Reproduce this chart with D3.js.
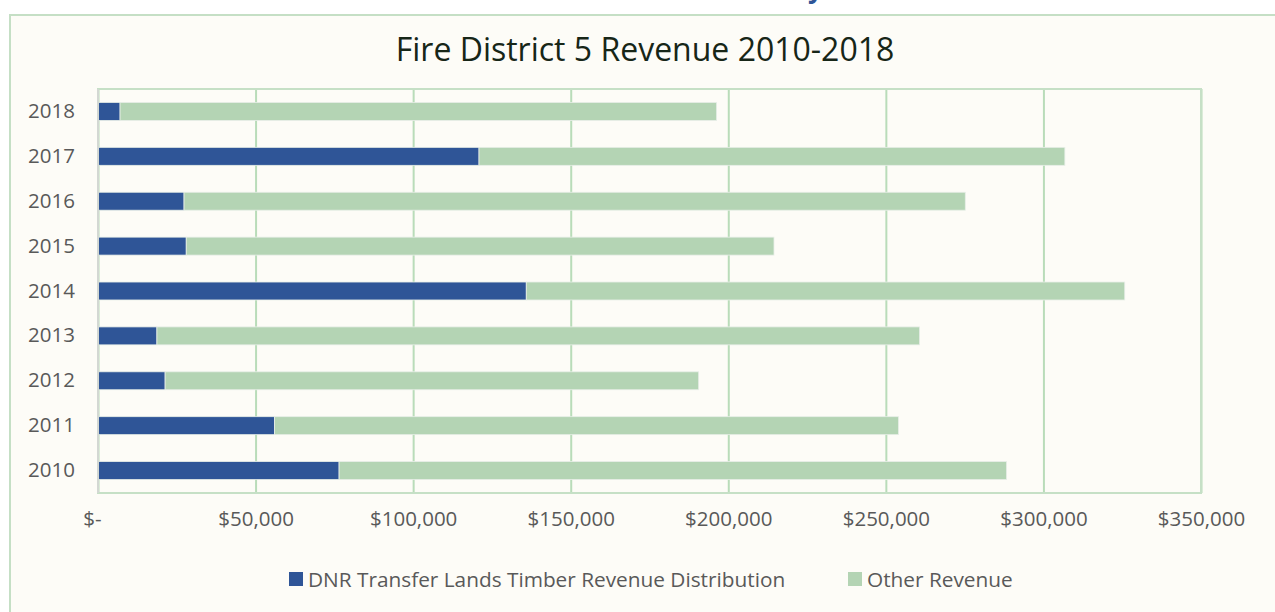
<!DOCTYPE html>
<html>
<head>
<meta charset="utf-8">
<script src="https://cdn.jsdelivr.net/npm/d3@7"></script>
<style>
  body { margin: 0; background: #ffffff; }
  text { font-family: "Open Sans", "Noto Sans", sans-serif; }
</style>
</head>
<body>
<div id="chart"></div>
<script>
const width = 1275, height = 612;

// data
const years = ["2010", "2011", "2012", "2013", "2014", "2015", "2016", "2017", "2018"];
const dnrRevenue = [76500, 56000, 21300, 18700, 135900, 28000, 27300, 120900, 7000];
const otherRevenue = [211800, 198000, 169300, 242000, 189900, 186500, 247900, 185900, 189300];
const xTicks = [0, 50000, 100000, 150000, 200000, 250000, 300000, 350000];
const seriesNames = ["DNR Transfer Lands Timber Revenue Distribution", "Other Revenue"];
const colors = ["#2f5597", "#b4d4b4"];

const plot = { left: 98, right: 1201, top: 89, bottom: 493 };

const svg = d3.select("#chart")
  .append("svg")
  .attr("width", width)
  .attr("height", height);

// cut-off heading from the page above
svg.append("text")
  .attr("x", 808)
  .attr("y", -2)
  .attr("font-size", 26)
  .attr("font-weight", "bold")
  .attr("fill", "#2f5597")
  .text("y");

// chart frame
svg.append("rect")
  .attr("x", 10)
  .attr("y", 15)
  .attr("width", 1300)
  .attr("height", 640)
  .attr("fill", "#fdfcf7")
  .attr("stroke", "#c5dfc5")
  .attr("stroke-width", 2);

svg.append("text")
  .attr("x", 645)
  .attr("y", 61)
  .attr("text-anchor", "middle")
  .attr("font-size", 32)
  .attr("fill", "#172617")
  .text("Fire District 5 Revenue 2010-2018");

const x = d3.scaleLinear()
  .domain([0, 350000])
  .range([plot.left, plot.right]);

const y = d3.scaleBand()
  .domain(years.slice().reverse())
  .range([plot.top, plot.bottom])
  .paddingInner(0.6)
  .paddingOuter(0.3);

// gridlines
const grid = svg.append("g")
  .attr("transform", `translate(0,${plot.bottom})`)
  .call(d3.axisBottom(x).tickValues(xTicks).tickSize(-(plot.bottom - plot.top)).tickFormat(""));
grid.select(".domain").remove();
grid.selectAll(".tick line")
  .attr("stroke", "#b9dcb9")
  .attr("stroke-width", 2);

// plot area border
svg.append("rect")
  .attr("x", plot.left)
  .attr("y", plot.top)
  .attr("width", plot.right - plot.left)
  .attr("height", plot.bottom - plot.top)
  .attr("fill", "none")
  .attr("stroke", "#c6e0c6")
  .attr("stroke-width", 2);

// stacked bars
const rows = years.map((yr, i) => ({ year: yr, dnr: dnrRevenue[i], other: otherRevenue[i] }));
const stack = d3.stack().keys(["dnr", "other"])(rows);

svg.append("g")
  .selectAll("g")
  .data(stack)
  .join("g")
  .attr("fill", (d, i) => colors[i])
  .selectAll("rect")
  .data(d => d)
  .join("rect")
  .attr("x", d => x(d[0]))
  .attr("y", d => y(d.data.year))
  .attr("width", d => x(d[1]) - x(d[0]))
  .attr("height", y.bandwidth())
  .attr("stroke", "#e8eee8")
  .attr("stroke-width", 0.8);

// vertical axis line
svg.append("line")
  .attr("x1", plot.left)
  .attr("x2", plot.left)
  .attr("y1", plot.top)
  .attr("y2", plot.bottom)
  .attr("stroke", "#d3d8d3")
  .attr("stroke-width", 2);

// x axis labels
const fmt = d3.format("$,");
const xAxis = svg.append("g")
  .attr("transform", `translate(0,${plot.bottom})`)
  .call(d3.axisBottom(x).tickValues(xTicks).tickSize(0).tickPadding(18)
    .tickFormat(d => d === 0 ? "$-" : fmt(d)));
xAxis.select(".domain").remove();
xAxis.selectAll("text")
  .attr("font-size", 20.5)
  .attr("fill", "#595959")
  .attr("font-family", "Open Sans, sans-serif")
  .attr("dx", d => d === 0 ? -6 : 0);

// y axis labels
const yAxis = svg.append("g")
  .attr("transform", `translate(${plot.left},0)`)
  .call(d3.axisLeft(y).tickSize(0).tickPadding(23));
yAxis.select(".domain").remove();
yAxis.selectAll("text")
  .attr("font-size", 20.5)
  .attr("fill", "#595959")
  .attr("font-family", "Open Sans, sans-serif");

// legend
const legendX = [289, 848];
const legend = svg.append("g")
  .selectAll("g")
  .data(seriesNames)
  .join("g")
  .attr("transform", (d, i) => `translate(${legendX[i]},572)`);

legend.append("rect")
  .attr("width", 14)
  .attr("height", 14)
  .attr("fill", (d, i) => colors[i]);

legend.append("text")
  .attr("x", 19)
  .attr("y", 14.5)
  .attr("font-size", 20.8)
  .attr("fill", "#595959")
  .text(d => d);
</script>
</body>
</html>
